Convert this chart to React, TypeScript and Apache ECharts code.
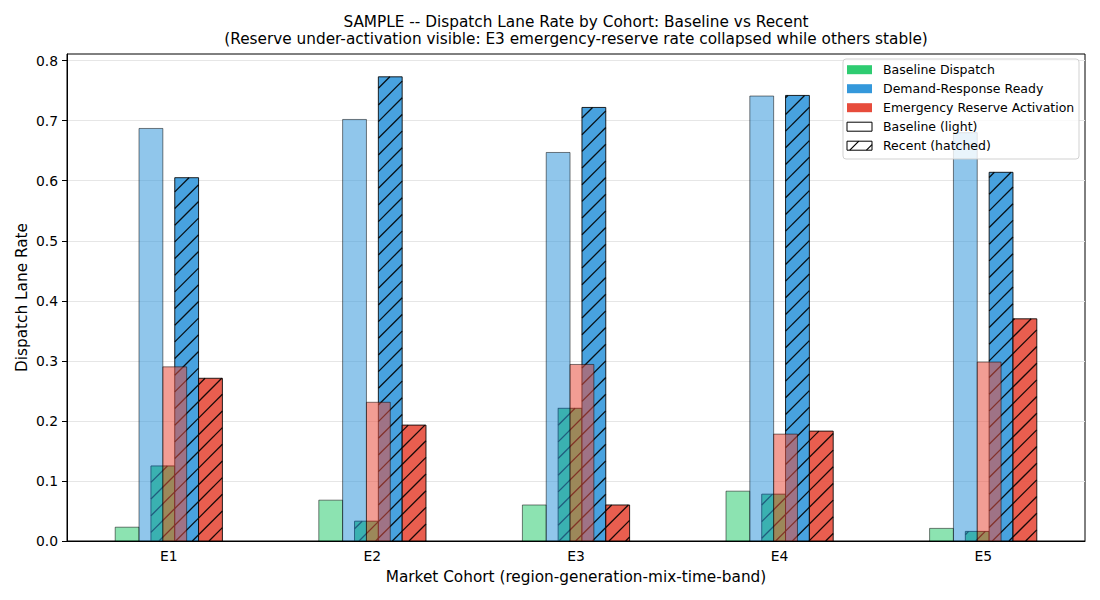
import React, { useEffect, useRef } from "react";
import * as echarts from "echarts";

const categories = ["E1", "E2", "E3", "E4", "E5"];
const seriesNames = ["Baseline Dispatch", "Demand-Response Ready", "Emergency Reserve Activation"];
const seriesRGB = [
  [46, 204, 113],
  [52, 152, 219],
  [231, 76, 60],
];
const baselineDispatch = [0.023, 0.068, 0.06, 0.083, 0.021];
const baselineDemandResponse = [0.687, 0.702, 0.647, 0.741, 0.68];
const baselineEmergencyReserve = [0.29, 0.231, 0.294, 0.178, 0.298];
const recentDispatch = [0.125, 0.033, 0.221, 0.078, 0.016];
const recentDemandResponse = [0.605, 0.773, 0.722, 0.742, 0.614];
const recentEmergencyReserve = [0.271, 0.193, 0.06, 0.183, 0.37];
const yTickValues = [0, 0.1, 0.2, 0.3, 0.4, 0.5, 0.6, 0.7, 0.8];

const FONT = "DejaVu Sans";
const BAR_W = 0.117;
const HATCH_STEP = 100 / 6;

function rgba(c: number[], a: number) {
  return `rgba(${c[0]},${c[1]},${c[2]},${a})`;
}

function hatchLines(x0: number, y0: number, x1: number, y1: number, stroke: string, lw: number) {
  const out: any[] = [];
  const cMin = x0 + y0;
  const cMax = x1 + y1;
  let k = Math.ceil(cMin / HATCH_STEP);
  for (; k * HATCH_STEP < cMax; k++) {
    const c = k * HATCH_STEP;
    const ax = Math.max(x0, c - y1);
    const bx = Math.min(x1, c - y0);
    if (bx - ax > 0.2) {
      out.push({
        type: "line",
        shape: { x1: ax, y1: c - ax, x2: bx, y2: c - bx },
        style: { stroke, lineWidth: lw },
        silent: true,
      });
    }
  }
  return out;
}

export default function App() {
  const ref = useRef<HTMLDivElement>(null);
  useEffect(() => {
    if (!ref.current) return;
    const chart = echarts.init(ref.current, undefined, { renderer: "svg" });
    const baseline = [baselineDispatch, baselineDemandResponse, baselineEmergencyReserve];
    const recent = [recentDispatch, recentDemandResponse, recentEmergencyReserve];
    const recentData: any[] = [];
    const baseData: any[] = [];
    for (let s = 0; s < 3; s++) {
      for (let i = 0; i < categories.length; i++) {
        recentData.push([i, s, recent[s][i], 1]);
        baseData.push([i, s, baseline[s][i], 0]);
      }
    }
    const renderItem = (params: any, api: any) => {
      const cat = api.value(0);
      const s = api.value(1);
      const v = api.value(2);
      const kind = api.value(3);
      const band = api.size([1, 0])[0];
      const w = BAR_W * band;
      const center = api.coord([cat, 0])[0];
      const offset = (s - 1 + (kind ? 0.75 : -0.75)) * w;
      const x0 = center + offset - w / 2;
      const yTop = api.coord([cat, v])[1];
      const yBot = api.coord([cat, 0])[1];
      const col = seriesRGB[s];
      const children: any[] = [];
      if (kind) {
        children.push({
          type: "rect",
          shape: { x: x0, y: yTop, width: w, height: yBot - yTop },
          style: { fill: rgba(col, 0.9) },
        });
        children.push(...hatchLines(x0, yTop, x0 + w, yBot, "rgba(0,0,0,0.9)", 1.3));
        children.push({
          type: "rect",
          shape: { x: x0, y: yTop, width: w, height: yBot - yTop },
          style: { fill: "none", stroke: "rgba(0,0,0,0.85)", lineWidth: 1 },
        });
      } else {
        children.push({
          type: "rect",
          shape: { x: x0, y: yTop, width: w, height: yBot - yTop },
          style: { fill: rgba(col, 0.55), stroke: "rgba(0,0,0,0.5)", lineWidth: 1 },
        });
      }
      return { type: "group", children };
    };

    const legendX = 843;
    const legendY = 59;
    const legendEls: any[] = [
      {
        type: "rect",
        shape: { x: legendX, y: legendY, width: 236, height: 100, r: 3 },
        style: { fill: "rgba(255,255,255,0.8)", stroke: "rgba(204,204,204,0.9)", lineWidth: 1 },
        z: 100,
      },
    ];
    const rowY = [69.7, 88.7, 107.7, 126.7, 145.7];
    const labels = [...seriesNames, "Baseline (light)", "Recent (hatched)"];
    labels.forEach((lab, r) => {
      const py = rowY[r] - 4.5;
      if (r < 3) {
        legendEls.push({
          type: "rect",
          shape: { x: 847, y: py, width: 25, height: 9 },
          style: { fill: rgba(seriesRGB[r], 1) },
          z: 101,
        });
      } else {
        legendEls.push({
          type: "rect",
          shape: { x: 847, y: py, width: 25, height: 9 },
          style: { fill: "#fff", stroke: "#000", lineWidth: 1 },
          z: 101,
        });
        if (r === 4) {
          hatchLines(847, py, 872, py + 9, "#000", 1.2).forEach((l) => {
            l.z = 102;
            legendEls.push(l);
          });
        }
      }
      legendEls.push({
        type: "text",
        x: 883,
        y: rowY[r],
        style: { text: lab, font: `12.5px "${FONT}"`, fill: "#000", verticalAlign: "middle", align: "left" },
        z: 101,
      });
    });

    const option: any = {
      animation: false,
      textStyle: { fontFamily: FONT },
      grid: {
        left: 67,
        right: 15,
        top: 54,
        bottom: 59,
        show: true,
        borderColor: "#000",
        borderWidth: 1,
        backgroundColor: "transparent",
      },
      xAxis: {
        type: "category",
        data: categories,
        name: "Market Cohort (region-generation-mix-time-band)",
        nameLocation: "middle",
        nameGap: 28,
        nameMoveOverlap: false,
        nameTextStyle: { fontFamily: FONT, fontSize: 15.3, color: "#000" },
        axisLine: { lineStyle: { color: "#000", width: 1 } },
        axisTick: { alignWithLabel: true, length: 5, lineStyle: { color: "#000" } },
        axisLabel: { fontFamily: FONT, fontSize: 13.9, color: "#000", margin: 8 },
        splitLine: { show: false },
      },
      yAxis: {
        type: "value",
        min: 0,
        max: 0.811,
        interval: 0.1,
        name: "Dispatch Lane Rate",
        nameLocation: "middle",
        nameGap: 38,
        nameMoveOverlap: false,
        nameTextStyle: { fontFamily: FONT, fontSize: 15.3, color: "#000" },
        axisLine: { show: true, lineStyle: { color: "#000", width: 1 } },
        axisTick: { show: true, length: 5, lineStyle: { color: "#000" }, customValues: yTickValues },
        axisLabel: {
          fontFamily: FONT,
          fontSize: 13.9,
          color: "#000",
          margin: 9,
          customValues: yTickValues,
          formatter: (v: number) => v.toFixed(1),
        },
        splitLine: { show: true, lineStyle: { color: "#e6e6e6", width: 1 } },
      },
      graphic: [
        {
          type: "text",
          x: 576,
          y: 22,
          style: {
            text: "SAMPLE -- Dispatch Lane Rate by Cohort: Baseline vs Recent",
            font: `15.3px "${FONT}"`,
            fill: "#000",
            align: "center",
            verticalAlign: "middle",
          },
        },
        {
          type: "text",
          x: 576,
          y: 39,
          style: {
            text: "(Reserve under-activation visible: E3 emergency-reserve rate collapsed while others stable)",
            font: `15.3px "${FONT}"`,
            fill: "#000",
            align: "center",
            verticalAlign: "middle",
          },
        },
        ...legendEls,
      ],
      series: [
        {
          type: "custom",
          name: "Recent",
          renderItem,
          data: recentData,
          encode: { x: 0, y: 2 },
          z: 2,
        },
        {
          type: "custom",
          name: "Baseline",
          renderItem,
          data: baseData,
          encode: { x: 0, y: 2 },
          z: 3,
        },
      ],
    };
    chart.setOption(option);
    return () => chart.dispose();
  }, []);
  return (
    <div
      ref={ref}
      style={{ position: "absolute", left: 0, top: 0, width: 1100, height: 600, background: "#fff" }}
    />
  );
}
